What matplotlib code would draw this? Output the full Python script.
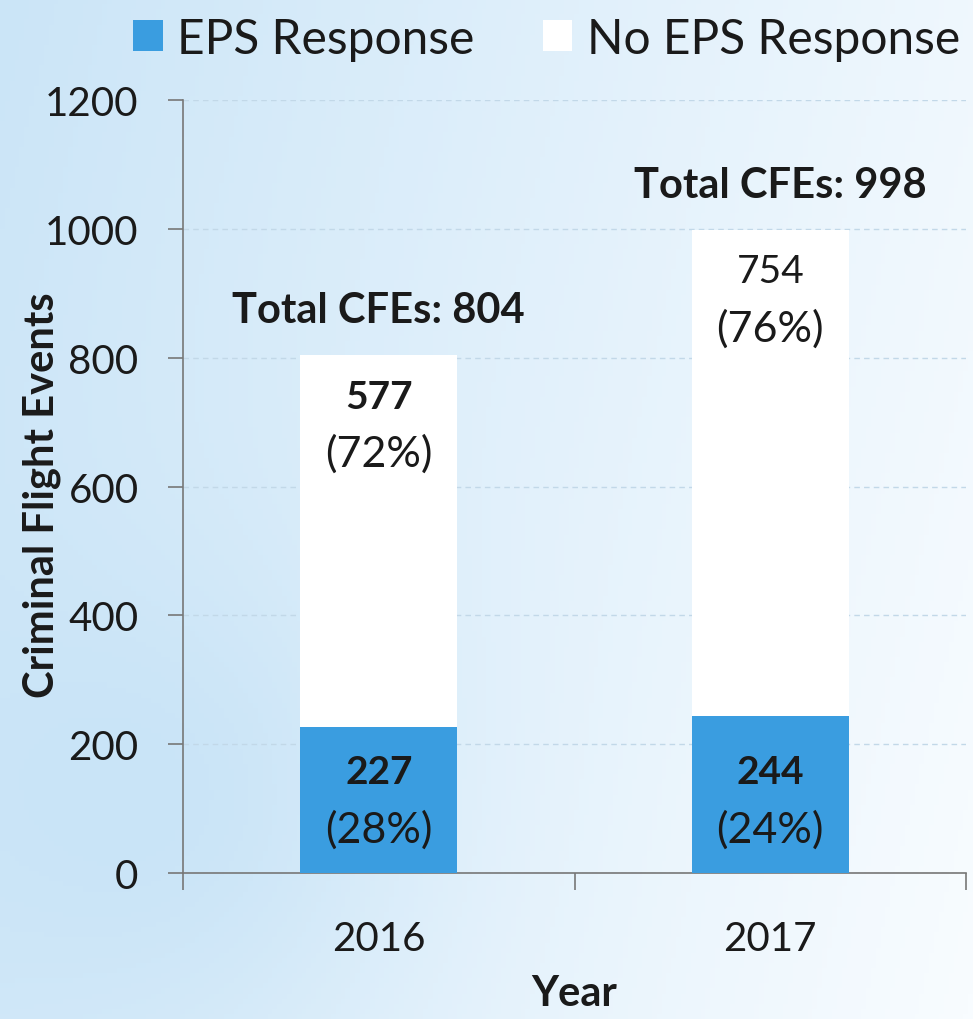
import matplotlib
matplotlib.use("Agg")
import matplotlib.pyplot as plt
import numpy as np
from matplotlib.patches import Patch
from matplotlib.colors import LinearSegmentedColormap

years = ["2016", "2017"]
eps_response = [227, 244]
no_eps_response = [577, 754]
eps_pct = ["(28%)", "(24%)"]
no_eps_pct = ["(72%)", "(76%)"]
totals = [804, 998]
yticks = [0, 200, 400, 600, 800, 1000, 1200]

plt.rcParams['font.family'] = ['Lato', 'DejaVu Sans']

fig = plt.figure(figsize=(9.73, 10.2), dpi=100)

# fondo azul claro con degradado
bg = fig.add_axes([0, 0, 1, 1], zorder=-10)
gx, gy = np.meshgrid(np.linspace(0, 1, 200), np.linspace(0, 1, 200))
grad = 0.6 * (1 - gx) + 0.15 * gy + 0.25 * np.exp(-((gx - 0.2) ** 2 + (gy - 0.2) ** 2) / 0.06)
cmap = LinearSegmentedColormap.from_list("bg", ["#f8fcff", "#c9e4f7"])
bg.imshow(grad, cmap=cmap, aspect="auto", extent=[0, 1, 0, 1], origin="lower")
bg.axis("off")

ax = fig.add_axes([0.1881, 0.1431, 0.8047, 0.7578])
ax.patch.set_alpha(0)

x = np.arange(len(years))
blue = "#3a9de0"
ax.bar(x, eps_response, width=0.4, color=blue, zorder=3)
ax.bar(x, no_eps_response, width=0.4, bottom=eps_response, color="white", zorder=3)

ax.set_xlim(-0.5, 1.5)
ax.set_ylim(0, 1200)
ax.set_yticks(yticks)
ax.set_yticklabels([str(v) for v in yticks], fontsize=29, color="#1a1a1a")
ax.set_xticks(x)
ax.set_xticklabels(years, fontsize=29, color="#1a1a1a")
ax.set_xticks([-0.5, 0.5, 1.5], minor=True)
ax.tick_params(axis="x", which="major", length=0, pad=34)
ax.tick_params(axis="x", which="minor", length=12, color="#777777", width=1.2)
ax.tick_params(axis="y", length=11, color="#777777", width=1.2, pad=21)

for s in ["top", "right"]:
    ax.spines[s].set_visible(False)
for s in ["left", "bottom"]:
    ax.spines[s].set_color("#777777")
    ax.spines[s].set_linewidth(1.2)

ax.yaxis.grid(True, linestyle=(0, (4, 3)), color="#c2d8e8", linewidth=1, zorder=0)

ax.set_ylabel("Criminal Flight Events", fontsize=30, fontweight="bold", color="#1a1a1a")
ax.yaxis.set_label_coords(-0.156, 0.49)
ax.set_xlabel("Year", fontsize=30, fontweight="bold", labelpad=12, color="#1a1a1a")

# etiquetas de valores
weights_top = ["bold", "normal"]
for i in range(len(years)):
    ax.text(x[i], 157, str(eps_response[i]), ha="center", va="center",
            fontsize=28, fontweight="bold", color="#1a1a1a", zorder=5)
    ax.text(x[i], 68, eps_pct[i], ha="center", va="center",
            fontsize=31, color="#1a1a1a", zorder=5)
    top = totals[i]
    ax.text(x[i], top - 64, str(no_eps_response[i]), ha="center", va="center",
            fontsize=28, fontweight=weights_top[i], color="#1a1a1a", zorder=5)
    ax.text(x[i], top - 152, no_eps_pct[i], ha="center", va="center",
            fontsize=31, color="#1a1a1a", zorder=5)
    ax.text(x[i] + 0.025 * i, top + 70, "Total CFEs: %d" % totals[i], ha="center", va="center",
            fontsize=30, fontweight="bold", color="#1a1a1a", zorder=5)

handles = [Patch(facecolor=blue, edgecolor="none"), Patch(facecolor="white", edgecolor="none")]
fig.legend(handles, ["EPS Response", "No EPS Response"], loc="upper right",
           bbox_to_anchor=(1.031, 1.025), ncol=2, frameon=False, fontsize=34.5,
           handlelength=0.62, handleheight=0.62, handletextpad=0.3, columnspacing=1.42,
           labelcolor="#1a1a1a")

fig.savefig("out.png", dpi=100)
plt.close(fig)
